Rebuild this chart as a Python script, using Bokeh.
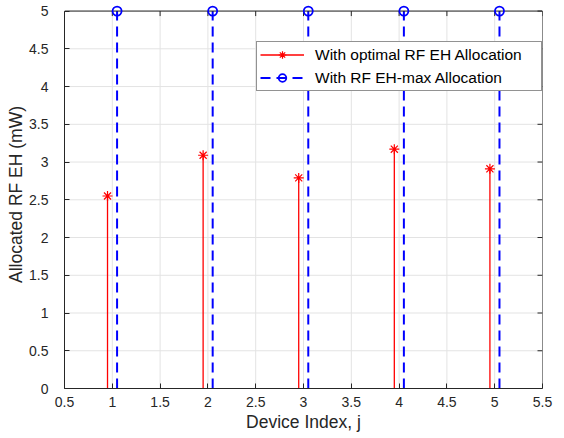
import math
from bokeh.plotting import figure
from bokeh.models import ColumnDataSource, Range1d, FixedTicker, Legend, LegendItem
from bokeh.transform import dodge
from bokeh.embed import file_html
from bokeh.resources import INLINE

devices = [1, 2, 3, 4, 5]
optimal_eh = [2.55, 3.09, 2.79, 3.17, 2.91]
max_eh = [5, 5, 5, 5, 5]
x_ticks = [0.5, 1, 1.5, 2, 2.5, 3, 3.5, 4, 4.5, 5, 5.5]
y_ticks = [0, 0.5, 1, 1.5, 2, 2.5, 3, 3.5, 4, 4.5, 5]

src = ColumnDataSource(dict(x=devices, opt=optimal_eh, mx=max_eh, zero=[0] * len(devices)))

FONT = "Liberation Sans"
FRAME = "#262626"
x0, x1 = x_ticks[0], x_ticks[-1]
y0, y1 = y_ticks[0], y_ticks[-1]

# y range extended a little above the top edge so that the markers on it are not clipped
p = figure(width=564, height=438, output_backend="svg", toolbar_location=None,
           x_range=Range1d(x0, x1), y_range=Range1d(y0, y1 * 1.028),
           min_border_left=64, min_border_right=22, min_border_top=0, min_border_bottom=50)
p.background_fill_color = "white"
p.border_fill_color = "white"
p.outline_line_color = None
p.grid.visible = False

for ax in (p.xaxis[0], p.yaxis[0]):
    ax.major_tick_in = 5
    ax.major_tick_out = 0
    ax.minor_tick_in = 0
    ax.minor_tick_out = 0
    ax.axis_line_color = FRAME
    ax.major_tick_line_color = FRAME
    ax.major_label_text_font = FONT
    ax.major_label_text_font_size = "14px"
    ax.major_label_text_color = FRAME
    ax.axis_label_text_font = FONT
    ax.axis_label_text_font_size = "17.5px"
    ax.axis_label_text_font_style = "normal"
    ax.axis_label_text_color = FRAME
p.xaxis.ticker = FixedTicker(ticks=x_ticks)
p.yaxis.ticker = FixedTicker(ticks=y_ticks)
p.yaxis.bounds = (y0, y1)
p.xaxis.axis_label = "Device Index, j"
p.yaxis.axis_label = "Allocated RF EH (mW)"
p.xaxis.major_label_standoff = 8
p.yaxis.major_label_standoff = 16
p.xaxis.axis_label_standoff = 2
p.yaxis.axis_label_standoff = 0

# grid lines
GRID = "#e3e3e3"
p.segment(x0=x_ticks, y0=[y0] * len(x_ticks), x1=x_ticks, y1=[y1] * len(x_ticks),
          line_color=GRID, line_width=1)
p.segment(x0=[x0] * len(y_ticks), y0=y_ticks, x1=[x1] * len(y_ticks), y1=y_ticks,
          line_color=GRID, line_width=1)

xr = dodge("x", -0.05, range=p.x_range)
xb = dodge("x", 0.05, range=p.x_range)

r_seg = p.segment(x0=xr, y0="zero", x1=xr, y1="opt", source=src, line_color="#ff0000", line_width=1.3)
r_mark = p.scatter(x=xr, y="opt", source=src, marker="asterisk", size=10, line_color="#ff0000",
                   line_width=1.2)

b_seg = p.segment(x0=xb, y0="zero", x1=xb, y1="mx", source=src, line_color="#0000ff", line_width=2,
                  line_dash="10 6")

# frame: top and right edges with inward ticks
p.segment(x0=[x0], y0=[y1], x1=[x1], y1=[y1], line_color=FRAME, line_width=1)
p.segment(x0=[x1], y0=[y0], x1=[x1], y1=[y1], line_color=FRAME, line_width=1)
p.ray(x=x_ticks, y=[y1] * len(x_ticks), length=5, length_units="screen",
      angle=-math.pi / 2, line_color=FRAME, line_width=1)
p.ray(x=[x1] * len(y_ticks), y=y_ticks, length=5, length_units="screen",
      angle=math.pi, line_color=FRAME, line_width=1)

b_mark = p.scatter(x=xb, y="mx", source=src, marker="circle", size=9, line_color="#0000ff",
                   fill_color="white", fill_alpha=0, line_width=1.8)

legend = Legend(items=[
    LegendItem(label="With optimal RF EH Allocation", renderers=[r_seg, r_mark]),
    LegendItem(label="With RF EH-max Allocation", renderers=[b_seg, b_mark]),
], location=(192, 297))
legend.label_text_font = FONT
legend.label_text_font_size = "15.5px"
legend.label_text_color = "#000000"
legend.border_line_color = FRAME
legend.border_line_width = 1
legend.background_fill_color = "white"
legend.background_fill_alpha = 1
legend.margin = 0
legend.padding = 3
legend.spacing = 4
legend.glyph_width = 44
legend.glyph_height = 19
legend.label_height = 19
legend.label_width = 223
legend.label_standoff = 11
p.add_layout(legend, "center")

open("out.html", "w").write(file_html(p, INLINE))
